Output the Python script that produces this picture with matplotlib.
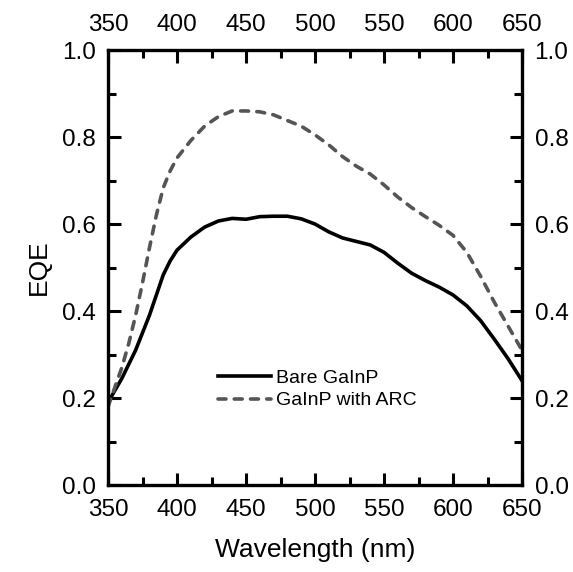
import matplotlib
matplotlib.use("Agg")
import matplotlib.pyplot as plt
from matplotlib.ticker import AutoMinorLocator, MultipleLocator

plt.rcParams['font.family'] = ['Liberation Sans', 'DejaVu Sans']

# ---- data ----
wl_bare = [350, 360, 370, 380, 390, 395, 400, 410, 420, 430, 440, 450, 460, 470,
           480, 490, 500, 510, 520, 530, 540, 550, 560, 570, 580, 590, 600, 610,
           620, 630, 640, 650]
eqe_bare = [0.19, 0.245, 0.31, 0.39, 0.483, 0.515, 0.54, 0.57, 0.593, 0.607,
            0.613, 0.611, 0.617, 0.618, 0.618, 0.612, 0.600, 0.582, 0.568, 0.560,
            0.552, 0.535, 0.51, 0.487, 0.47, 0.455, 0.437, 0.412, 0.378, 0.335,
            0.29, 0.24]

wl_arc = [350, 355, 360, 365, 370, 375, 380, 385, 390, 395, 400, 410, 420, 430,
          440, 450, 460, 470, 480, 490, 500, 510, 520, 530, 540, 550, 560, 570,
          580, 590, 600, 610, 620, 630, 640, 650]
eqe_arc = [0.18, 0.225, 0.27, 0.325, 0.39, 0.465, 0.545, 0.62, 0.683, 0.722,
           0.752, 0.792, 0.825, 0.847, 0.86, 0.86, 0.858, 0.851, 0.838, 0.825,
           0.805, 0.782, 0.755, 0.733, 0.715, 0.69, 0.662, 0.638, 0.617, 0.597,
           0.574, 0.535, 0.48, 0.42, 0.365, 0.31]

labels = ["Bare GaInP", "GaInP with ARC"]

fig = plt.figure(figsize=(5.73, 5.72), dpi=100)
ax = fig.add_axes([0.1885, 0.152, 0.7225, 0.7605])

ax.plot(wl_bare, eqe_bare, color='black', lw=2.6, label=labels[0])
ax.plot(wl_arc, eqe_arc, color='#555555', lw=2.6, ls=(0, (2.2, 2.3)),
        dash_capstyle='round', label=labels[1])

ax.set_xlim(350, 650)
ax.set_ylim(0, 1.0)
ax.xaxis.set_major_locator(MultipleLocator(50))
ax.yaxis.set_major_locator(MultipleLocator(0.2))
ax.xaxis.set_minor_locator(AutoMinorLocator(2))
ax.yaxis.set_minor_locator(AutoMinorLocator(2))

for s in ax.spines.values():
    s.set_linewidth(2.4)

ax.tick_params(which='both', direction='in', top=True, right=True,
               labeltop=True, labelright=True, labelsize=17.5, width=2.2)
ax.tick_params(which='major', length=9, pad=10)
ax.tick_params(axis='y', which='major', pad=9)
ax.tick_params(which='minor', length=6)

ax.set_xlabel("Wavelength (nm)", fontsize=19, labelpad=12)
ax.set_ylabel("EQE", fontsize=19, labelpad=8)

ax.legend(loc='center left', bbox_to_anchor=(0.266, 0.22), frameon=False,
          fontsize=14, handlelength=2.7, handletextpad=0.3, labelspacing=0.25,
          borderpad=0, borderaxespad=0)

fig.savefig("out.png", dpi=100)
